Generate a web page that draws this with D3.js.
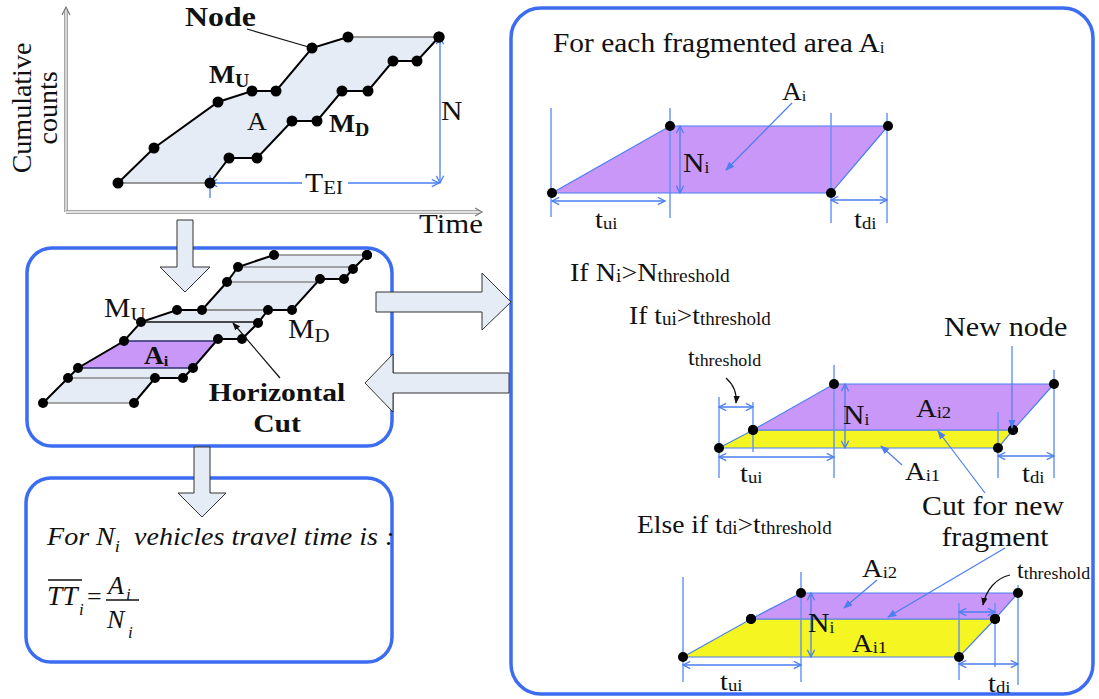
<!DOCTYPE html>
<html>
<head>
<meta charset="utf-8">
<script src="https://cdn.jsdelivr.net/npm/d3@7"></script>
<style>
  body { margin: 0; background: #fff; }
  text { font-family: "Liberation Serif", "Times New Roman", serif; fill: #111; white-space: pre; }
</style>
</head>
<body>
<div id="chart"></div>
<script>
// ---- data: cumulative count curves, [time, count] in local units ----
// top diagram (upstream M_U and downstream M_D curves)
const muTop = [[52, 29], [88, 64], [152, 110], [186, 121], [210, 121], [246, 164], [282, 175], [373, 175]];
const mdTop = [[144, 29], [163, 54], [191, 54], [226, 91], [251, 91], [276, 121], [302, 121], [327, 151], [351, 151], [373, 175]];

// horizontal cut diagram
const muCut = [[0, 0], [25, 25], [35, 35], [81, 62], [98, 81], [134, 93], [159, 93], [184, 121], [195, 136], [231, 148], [324, 148]];
const mdCut = [[91, 0], [112, 25], [140, 25], [150, 35], [175, 64], [199, 64], [215, 80], [225, 93], [249, 93], [277, 124], [301, 124], [310, 134], [324, 148]];
const aiLevels = [35, 62];       // fragment A_i lies between these counts
const pointedCut = 81;           // the cut the "Horizontal Cut" label points at

// fragment panels: corners [time, count]
const frag1 = [[0, 0], [118, 67], [336, 67], [279, 0]];
const frag2Low = [[0, 0], [34, 18], [294, 18], [279, 0]];
const frag2High = [[34, 18], [115, 64], [335, 64], [294, 18]];
const frag3Low = [[0, 0], [68, 38], [312, 38], [276, 0]];
const frag3High = [[68, 38], [118, 64], [335, 64], [312, 38]];

// colours
const blue = "#4a7ef2";
const guideBlue = "#6190f5";
const boxBlue = "#3b6cf2";
const areaFill = "#e6ecf5";
const purple = "#c897f7";
const yellow = "#f5f522";
const serif = "'Liberation Serif', 'Times New Roman', serif";

const svg = d3.select("#chart").append("svg")
    .attr("width", 1099)
    .attr("height", 699)
    .attr("font-family", serif);

// markers
const defs = svg.append("defs");
function marker(id, d, fill, stroke, size) {
    defs.append("marker")
        .attr("id", id)
        .attr("viewBox", "0 0 10 10")
        .attr("refX", 9).attr("refY", 5)
        .attr("markerWidth", size).attr("markerHeight", size)
        .attr("markerUnits", "userSpaceOnUse")
        .attr("orient", "auto-start-reverse")
        .append("path")
        .attr("d", d)
        .attr("fill", fill)
        .attr("stroke", stroke)
        .attr("stroke-width", 1.4);
}
marker("dimHead", "M1,1 L9,5 L1,9", "none", blue, 9);
marker("ptrHead", "M0,1 L10,5 L0,9 Z", blue, "none", 9);
marker("blackHead", "M0,1 L10,5 L0,9 Z", "#111", "none", 8);

// text helper: parts starting with "_" are subscripts
function label(x, y, parts, o = {}) {
    const size = o.size || 26;
    const subSize = o.subSize || size * 0.62;
    const drop = o.drop != null ? o.drop : size * 0.12;
    const t = svg.append("text")
        .attr("transform", `translate(${x},${y})` + (o.rotate ? ` rotate(${o.rotate})` : "") + ` scale(${o.sx || 1.1},1)`)
        .attr("font-family", serif)
        .attr("font-size", size)
        .attr("font-weight", o.bold ? "bold" : null)
        .attr("font-style", o.italic ? "italic" : null)
        .attr("text-anchor", o.anchor || "start");
    let shift = 0;
    parts.forEach(p => {
        const sub = p[0] === "_";
        const target = sub ? drop : 0;
        t.append("tspan")
            .attr("dy", target - shift)
            .attr("font-size", sub ? subSize : size)
            .text(sub ? p.slice(1) : p);
        shift = target;
    });
    return t;
}

function seg(x1, y1, x2, y2, color, width, head) {
    const l = svg.append("line")
        .attr("x1", x1).attr("y1", y1).attr("x2", x2).attr("y2", y2)
        .attr("stroke", color).attr("stroke-width", width);
    if (head === "both") l.attr("marker-start", "url(#dimHead)").attr("marker-end", "url(#dimHead)");
    else if (head) l.attr("marker-end", `url(#${head})`);
    return l;
}

function dots(points, x, y, r) {
    svg.append("g").selectAll("circle")
        .data(points)
        .join("circle")
        .attr("cx", d => x(d[0]))
        .attr("cy", d => y(d[1]))
        .attr("r", r)
        .attr("fill", "#000");
}

const line = (x, y) => d3.line().x(d => x(d[0])).y(d => y(d[1]));

// x position where a curve reaches a given count
function xAt(path, level) {
    for (let k = 1; k < path.length; k++) {
        const [t0, n0] = path[k - 1], [t1, n1] = path[k];
        if (n0 === level) return t0;
        if (n1 !== n0 && level >= Math.min(n0, n1) && level <= Math.max(n0, n1)) {
            return t0 + (t1 - t0) * (level - n0) / (n1 - n0);
        }
    }
    return path[path.length - 1][0];
}

// ================= top diagram =================
const xTop = d3.scaleLinear().domain([0, 416]).range([66, 482]);
const yTop = d3.scaleLinear().domain([0, 205]).range([212, 7]);

// hollow axes
[[xTop(0), yTop(0), xTop(0), yTop(203)], [xTop(0), yTop(0), xTop(414), yTop(0)]].forEach(a => {
    seg(a[0], a[1], a[2], a[3], "#8a8a8a", 3.5);
    seg(a[0], a[1], a[2], a[3], "#fff", 1.3);
});
svg.append("path").attr("d", `M${xTop(0) - 4},${yTop(197)} L${xTop(0)},${yTop(205)} L${xTop(0) + 4},${yTop(197)}`)
    .attr("fill", "none").attr("stroke", "#777").attr("stroke-width", 1.2);
svg.append("path").attr("d", `M${xTop(409)},${yTop(0) - 4} L${xTop(416)},${yTop(0)} L${xTop(409)},${yTop(0) + 4}`)
    .attr("fill", "none").attr("stroke", "#777").attr("stroke-width", 1.2);

svg.append("path")
    .attr("d", line(xTop, yTop)(muTop.concat(mdTop.slice().reverse())) + "Z")
    .attr("fill", areaFill);
svg.append("path").attr("d", line(xTop, yTop)([muTop[0], mdTop[0]])).attr("stroke", "#777").attr("stroke-width", 1.5);
svg.append("path").attr("d", line(xTop, yTop)(muTop.slice(-2))).attr("stroke", "#777").attr("stroke-width", 1.5);
svg.append("path").attr("d", line(xTop, yTop)(muTop.slice(0, -1))).attr("fill", "none").attr("stroke", "#000").attr("stroke-width", 2);
svg.append("path").attr("d", line(xTop, yTop)(mdTop)).attr("fill", "none").attr("stroke", "#000").attr("stroke-width", 2);

// T_EI and N dimension arrows
const tStart = mdTop[0], tEnd = muTop[muTop.length - 1];
seg(xTop(tStart[0]), yTop(tStart[1]), xTop(tEnd[0]), yTop(tStart[1]), blue, 1.3, "both");
seg(xTop(tStart[0]), yTop(tStart[1]) - 8, xTop(tStart[0]), yTop(tStart[1]) + 15, blue, 1.3);
seg(xTop(tEnd[0]) + 1, yTop(tEnd[1]), xTop(tEnd[0]) + 1, yTop(tStart[1]), blue, 1.3, "both");
svg.append("rect").attr("x", 302).attr("y", 172).attr("width", 46).attr("height", 22).attr("fill", "#fff");

dots(muTop, xTop, yTop, 5.5);
dots(mdTop, xTop, yTop, 5.5);

seg(247, 29, xTop(muTop[5][0]), yTop(muTop[5][1]), "#111", 1.2);
label(185, 26, ["Node"], { size: 27, bold: true, sx: 1.18 });
label(209, 83, ["M", "_U"], { size: 25, bold: true, subSize: 18, drop: 4 });
label(247, 130, ["A"], { size: 25 });
label(329, 132, ["M", "_D"], { size: 25, bold: true, subSize: 18, drop: 4 });
label(441, 120, ["N"], { size: 27 });
label(305, 192, ["T", "_EI"], { size: 27, subSize: 19, drop: 2 });
label(419, 233, ["Time"], { size: 28 });
label(31, 108, ["Cumulative"], { size: 28, rotate: -90, anchor: "middle", sx: 1 });
label(57, 108, ["counts"], { size: 28, rotate: -90, anchor: "middle", sx: 1 });

// ================= boxes =================
const boxes = [[27, 248, 365, 198, 25], [26, 478, 366, 184, 25], [511, 8, 582, 686, 30]];
svg.append("g").selectAll("rect")
    .data(boxes)
    .join("rect")
    .attr("x", d => d[0]).attr("y", d => d[1])
    .attr("width", d => d[2]).attr("height", d => d[3])
    .attr("rx", d => d[4])
    .attr("fill", "none")
    .attr("stroke", boxBlue)
    .attr("stroke-width", 3.5);

// ================= horizontal cut diagram =================
const xCut = d3.scaleLinear().domain([0, 324]).range([43, 367]);
const yCut = d3.scaleLinear().domain([0, 148]).range([403, 255]);

svg.append("path")
    .attr("d", line(xCut, yCut)(muCut.concat(mdCut.slice().reverse())) + "Z")
    .attr("fill", areaFill);
const ai = [[xAt(muCut, aiLevels[0]), aiLevels[0]], [xAt(muCut, aiLevels[1]), aiLevels[1]],
            [xAt(mdCut, aiLevels[1]), aiLevels[1]], [xAt(mdCut, aiLevels[0]), aiLevels[0]]];
svg.append("path").attr("d", line(xCut, yCut)(ai) + "Z").attr("fill", purple);

const cutLevels = [0].concat(muCut.slice(1, -2).map(d => d[1]), [148]);
cutLevels.forEach(lv => {
    const color = lv === pointedCut ? "#111" : aiLevels.includes(lv) ? "#2c2f6e" : "#8a8a8a";
    const from = lv === 148 ? muCut[muCut.length - 2][0] : xAt(muCut, lv);
    seg(xCut(from), yCut(lv), xCut(xAt(mdCut, lv)), yCut(lv), color, 1.5);
});
svg.append("path").attr("d", line(xCut, yCut)(muCut.slice(0, -1))).attr("fill", "none").attr("stroke", "#000").attr("stroke-width", 2);
svg.append("path").attr("d", line(xCut, yCut)(mdCut)).attr("fill", "none").attr("stroke", "#000").attr("stroke-width", 2);
dots(muCut, xCut, yCut, 5);
dots(mdCut, xCut, yCut, 5);

seg(280, 378, xCut(xAt(muCut, pointedCut)) + 92, yCut(pointedCut) + 1, "#111", 1.2, "blackHead");
label(104, 317, ["M", "_U"], { size: 27, subSize: 19, drop: 4 });
label(288, 338, ["M", "_D"], { size: 27, subSize: 19, drop: 4 });
label(144, 364, ["A", "_i"], { size: 25, bold: true, subSize: 15, drop: 2 });
label(277, 401, ["Horizontal"], { size: 26, bold: true, anchor: "middle", sx: 1.14 });
label(277, 432, ["Cut"], { size: 26, bold: true, anchor: "middle", sx: 1.14 });

// ================= block arrows =================
const blockArrows = [
    [[177, 220], [193, 220], [193, 267], [210, 267], [185, 292], [160, 267], [177, 267]],
    [[194, 447], [210, 447], [210, 493], [226, 493], [202, 517], [178, 493], [194, 493]],
    [[376, 292], [482, 292], [482, 273], [511, 302], [482, 330], [482, 312], [376, 312]],
    [[509, 373], [393, 373], [393, 354], [365, 383], [393, 412], [393, 393], [509, 393]]
];
svg.append("g").selectAll("path")
    .data(blockArrows)
    .join("path")
    .attr("d", d => d3.line()(d) + "Z")
    .attr("fill", areaFill)
    .attr("stroke", "#333")
    .attr("stroke-width", 1);

// ================= bottom-left formula =================
label(47, 545, ["For N", "_i", "  vehicles travel time is :"], { size: 26, italic: true, subSize: 17, drop: 7, sx: 1.08 });
label(47, 605, ["TT"], { size: 27, italic: true, sx: 1.02 });
seg(48, 580, 82, 580, "#111", 1.5);
label(79, 615, ["i"], { size: 17, italic: true, sx: 1 });
label(87, 605, ["="], { size: 26, sx: 1 });
seg(106, 600, 139, 600, "#111", 1.3);
label(108, 594, ["A"], { size: 26, italic: true, sx: 1 });
label(126, 600, ["i"], { size: 17, italic: true, sx: 1 });
label(107, 628, ["N"], { size: 26, italic: true, sx: 1 });
label(128, 638, ["i"], { size: 17, italic: true, sx: 1 });

// ================= right panel =================
function guide(x, y1, y2) { seg(x, y1, x, y2, guideBlue, 1.4); }
function poly(pts, x, y, fill) {
    svg.append("path").attr("d", line(x, y)(pts) + "Z")
        .attr("fill", fill).attr("stroke", blue).attr("stroke-width", 1.2);
}

label(553, 52, ["For each fragmented area A", "_i"], { size: 27, sx: 1.09, subSize: 16, drop: 1 });

// panel 1
const x1 = d3.scaleLinear().domain([0, 336]).range([552, 888]);
const y1 = d3.scaleLinear().domain([0, 67]).range([193, 126]);
poly(frag1, x1, y1, purple);
guide(x1(0) - 1, 108, 217);
guide(x1(118), 108, 218);
guide(x1(279), 113, 223);
guide(x1(336) - 1, 113, 223);
seg(x1(128), y1(67), x1(128), y1(0), blue, 1.3, "both");
seg(x1(0), 201, x1(118) - 5, 201, blue, 1.3, "both");
seg(x1(279), 200, x1(336) - 1, 200, blue, 1.3, "both");
dots(frag1, x1, y1, 5);
seg(792, 103, 726, 170, blue, 1.2, "ptrHead");
label(782, 100, ["A", "_i"], { size: 25, subSize: 15, drop: 1 });
label(683, 172, ["N", "_i"], { size: 27, subSize: 16, drop: 1 });
label(595, 228, ["t", "_ui"], { size: 26, subSize: 17, drop: 1 });
label(854, 228, ["t", "_di"], { size: 26, subSize: 17, drop: 1 });

// panel 2
label(570, 281, ["If N", "_i", ">N", "_threshold"], { size: 26, subSize: 18, drop: 1, sx: 1.08 });
label(629, 324, ["If t", "_ui", ">t", "_threshold"], { size: 26, subSize: 18, drop: 1, sx: 1.06 });
label(944, 336, ["New node"], { size: 27, sx: 1.12 });

const x2 = d3.scaleLinear().domain([0, 335]).range([719, 1054]);
const y2 = d3.scaleLinear().domain([0, 64]).range([448, 384]);
poly(frag2Low, x2, y2, yellow);
poly(frag2High, x2, y2, purple);
guide(x2(0), 397, 478);
guide(x2(34), 402, 452);
guide(x2(115), 365, 478);
guide(x2(279), 412, 478);
guide(x2(335), 370, 478);
seg(x2(0), 407, x2(34), 407, blue, 1.3, "both");
seg(x2(126), y2(64), x2(126), y2(0), blue, 1.3, "both");
seg(x2(0), 457, x2(115), 457, blue, 1.3, "both");
seg(x2(279), 456, x2(335), 456, blue, 1.3, "both");
dots(frag2Low.concat(frag2High), x2, y2, 5);
seg(1012, 346, 1012, 428, blue, 1.2, "ptrHead");
svg.append("path").attr("d", "M726,378 C734,385 737,393 736,403")
    .attr("fill", "none").attr("stroke", "#111").attr("stroke-width", 1.2).attr("marker-end", "url(#blackHead)");
label(688, 365, ["t", "_threshold"], { size: 23, subSize: 17, drop: 1, sx: 1.05 });
label(843, 424, ["N", "_i"], { size: 27, subSize: 16, drop: 1 });
label(916, 417, ["A", "_i2"], { size: 26, subSize: 17, drop: 1 });
seg(902, 465, 881, 446, blue, 1.2, "ptrHead");
seg(985, 493, 938, 431, blue, 1.2, "ptrHead");
label(905, 480, ["A", "_i1"], { size: 26, subSize: 17, drop: 1 });
label(740, 482, ["t", "_ui"], { size: 26, subSize: 17, drop: 1 });
label(1022, 482, ["t", "_di"], { size: 26, subSize: 17, drop: 1 });
label(993, 515, ["Cut for new"], { size: 27, anchor: "middle", sx: 1.1 });
label(995, 546, ["fragment"], { size: 27, anchor: "middle", sx: 1.1 });

// panel 3
label(637, 533, ["Else if t", "_di", ">t", "_threshold"], { size: 26, subSize: 18, drop: 1, sx: 1.06 });

const x3 = d3.scaleLinear().domain([0, 335]).range([683, 1018]);
const y3 = d3.scaleLinear().domain([0, 64]).range([657, 593]);
poly(frag3Low, x3, y3, yellow);
poly(frag3High, x3, y3, purple);
guide(x3(0), 577, 682);
guide(x3(118), 572, 682);
guide(x3(276), 603, 680);
guide(x3(312), 603, 667);
guide(x3(335), 585, 685);
seg(x3(276), 612, x3(312), 612, blue, 1.3, "both");
seg(x3(128), y3(64), x3(128), y3(0), blue, 1.3, "both");
seg(x3(0), 665, x3(118), 665, blue, 1.3, "both");
seg(x3(276), 664, x3(335), 664, blue, 1.3, "both");
dots(frag3Low.concat(frag3High), x3, y3, 5);
seg(877, 580, 844, 608, blue, 1.2, "ptrHead");
seg(1005, 548, 888, 617, blue, 1.2, "ptrHead");
svg.append("path").attr("d", "M1010,575 C996,578 986,590 983,605")
    .attr("fill", "none").attr("stroke", "#111").attr("stroke-width", 1.2).attr("marker-end", "url(#blackHead)");
label(862, 577, ["A", "_i2"], { size: 26, subSize: 17, drop: 1 });
label(808, 632, ["N", "_i"], { size: 27, subSize: 16, drop: 1 });
label(852, 652, ["A", "_i1"], { size: 26, subSize: 17, drop: 1 });
label(1017, 578, ["t", "_threshold"], { size: 23, subSize: 17, drop: 1, sx: 1.05 });
label(720, 690, ["t", "_ui"], { size: 26, subSize: 17, drop: 1 });
label(988, 692, ["t", "_di"], { size: 26, subSize: 17, drop: 1 });
</script>
</body>
</html>
